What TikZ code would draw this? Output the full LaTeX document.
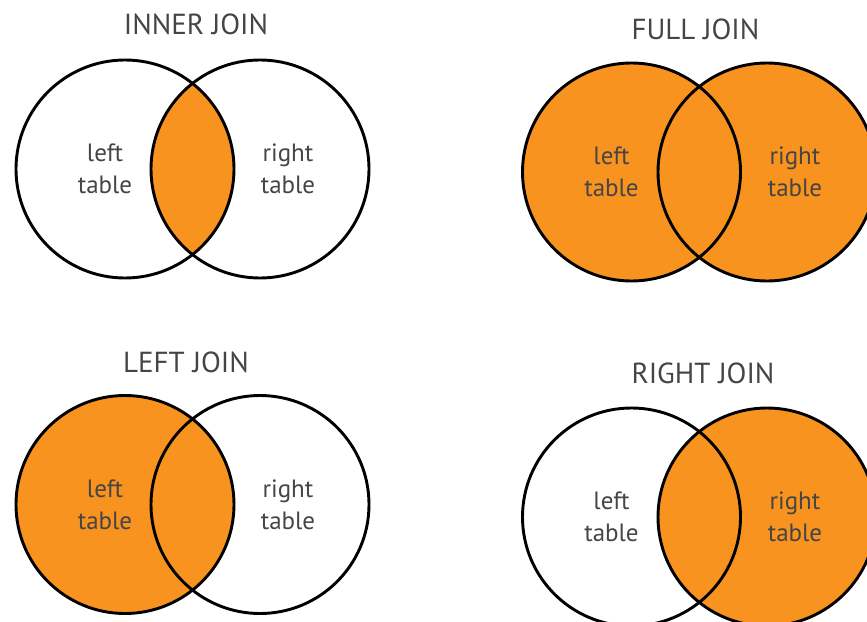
\documentclass[tikz,border=0pt]{standalone}
\usepackage{fontspec}
\setmainfont{PT Sans}
\usepackage{tikz}
\usetikzlibrary{positioning}
\definecolor{joinorange}{HTML}{F7931E}
\definecolor{txtgray}{HTML}{454545}

\begin{document}
\begin{tikzpicture}[
    x=1pt, y=-1pt,
    set/.style={circle, draw=black, line width=2.9pt, minimum size=218pt, inner sep=0pt},
    title/.style={font=\fontsize{29}{31}\selectfont, text=txtgray, anchor=base},
    lbl/.style={font=\fontsize{25}{32}\selectfont, text=txtgray, align=center}
]
\useasboundingbox (0,0) rectangle (867,621);
\clip (0,0) rectangle (867,621);

% centres of the eight circles
\coordinate (iL) at (125,169);
\coordinate (iR) at (260,169);
\coordinate (fL) at (631.5,172);
\coordinate (fR) at (767,172);
\coordinate (lL) at (125,504.5);
\coordinate (lR) at (260,504.5);
\coordinate (rL) at (631.5,517);
\coordinate (rR) at (767,517);

% orange parts
\begin{scope}
  \clip (iL) circle (109pt);
  \fill [joinorange] (iR) circle (109pt);
\end{scope}
\fill [joinorange] (fL) circle (109pt) (fR) circle (109pt);
\fill [joinorange] (lL) circle (109pt);
\fill [joinorange] (rR) circle (109pt);

% INNER JOIN
\node (innerA) [set] at (iL) {};
\node (innerB) [set] at (iR) {};
\node (innerT) [title] at (196,34) {INNER JOIN};
\node (innerLl) [lbl, xshift=-20pt] at (iL) {left\\table};
\node (innerRl) [lbl, xshift=28pt] at (iR) {right\\table};

% FULL JOIN
\node (fullA) [set] at (fL) {};
\node (fullB) [set] at (fR) {};
\node (fullT) [title] at (695.5,39) {FULL JOIN};
\node (fullLl) [lbl, xshift=-20pt] at (fL) {left\\table};
\node (fullRl) [lbl, xshift=28pt] at (fR) {right\\table};

% LEFT JOIN
\node (leftA) [set] at (lL) {};
\node (leftB) [set] at (lR) {};
\node (leftT) [title] at (186,372) {LEFT JOIN};
\node (leftLl) [lbl, xshift=-20pt] at (lL) {left\\table};
\node (leftRl) [lbl, xshift=28pt] at (lR) {right\\table};

% RIGHT JOIN
\node (rightA) [set] at (rL) {};
\node (rightB) [set] at (rR) {};
\node (rightT) [title] at (703,383) {RIGHT JOIN};
\node (rightLl) [lbl, xshift=-20pt] at (rL) {left\\table};
\node (rightRl) [lbl, xshift=28pt] at (rR) {right\\table};
\end{tikzpicture}
\end{document}
